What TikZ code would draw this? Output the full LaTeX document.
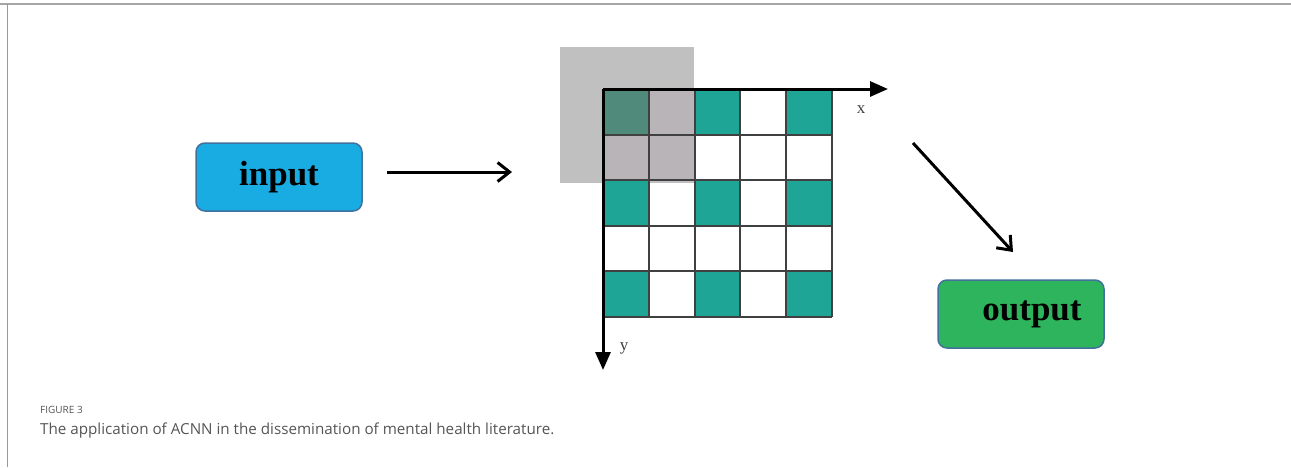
\documentclass[tikz,border=0pt]{standalone}
\usepackage{fontspec}
\setmainfont{Liberation Serif}
\newfontfamily\capfont{Open Sans}
\usetikzlibrary{arrows.meta}

\definecolor{inblue}{HTML}{19ACE3}
\definecolor{outgreen}{HTML}{2DB45C}
\definecolor{boxedge}{HTML}{41719C}
\definecolor{cellteal}{HTML}{1FA596}
\definecolor{celldark}{HTML}{4F8A7A}
\definecolor{cellgray}{HTML}{B8B4B8}
\definecolor{patchgray}{HTML}{C0C0C0}
\definecolor{captext}{HTML}{555555}

\begin{document}
\begin{tikzpicture}[x=1pt, y=-1pt,
    iobox/.style={draw=boxedge, line width=1.5pt, rounded corners=9pt,
        minimum width=166pt, minimum height=68pt, inner sep=0pt,
        font=\fontsize{35}{40}\selectfont\bfseries},
    flow/.style={line width=3pt, -{Straight Barb[length=12pt, width=19pt, line width=3pt]}},
    axis/.style={line width=3pt, -{Triangle[length=18pt, width=15pt]}}]

\useasboundingbox (0,0) rectangle (1291,467);

% Frame
\draw[line width=1.5pt, gray!70] (0,4) -- (1291,4);
\draw[line width=1pt, gray!80] (7,4) -- (7,467);

% Input and output boxes
\node[iobox, fill=inblue] (input) at (279,177) {input};
\node[iobox, fill=outgreen] (output) at (1021,314) {\hspace*{22pt}output};

% Sliding window patch
\fill[patchgray] (560,47) rectangle (694,183);

% Grid cells
\begin{scope}[shift={(603,89)}, x=45.8pt, y=-45.6pt]
    % Row 1
    \fill[celldark] (0,0) rectangle (1,1);
    \fill[cellgray] (1,0) rectangle (2,1);
    \fill[cellteal] (2,0) rectangle (3,1);
    \fill[cellteal] (4,0) rectangle (5,1);
    % Row 2
    \fill[cellgray] (0,1) rectangle (2,2);
    % Row 3
    \fill[cellteal] (0,2) rectangle (1,3);
    \fill[cellteal] (2,2) rectangle (3,3);
    \fill[cellteal] (4,2) rectangle (5,3);
    % Row 5
    \fill[cellteal] (0,4) rectangle (1,5);
    \fill[cellteal] (2,4) rectangle (3,5);
    \fill[cellteal] (4,4) rectangle (5,5);
    % Grid lines
    \foreach \i in {0,...,5} {
        \draw[line width=2pt, black!75] (\i,0) -- (\i,5);
        \draw[line width=2pt, black!75] (0,\i) -- (5,\i);
    }
\end{scope}

% Axes
\coordinate (origin) at (603,89);
\coordinate (xend) at (888,89);
\coordinate (yend) at (603,370);
\draw[axis] (origin) -- (xend);
\draw[axis] (origin) -- (yend);
\node[font=\fontsize{17}{18}\selectfont, black!75] (xlab) at (861,110) {x};
\node[font=\fontsize{17}{18}\selectfont, black!75] (ylab) at (624,348) {y};

% Connectors
\coordinate (gridin) at (560,172);
\coordinate (gridout) at (913,143);
\coordinate (outtop) at (1013,252);
\draw[flow, shorten <=24pt, shorten >=48pt] (input.east |- gridin) -- (gridin);
\draw[flow] (gridout) -- (outtop);

% Caption
\node[anchor=base west, inner sep=0pt, font=\capfont\fontsize{10}{12}\selectfont, text=captext]
    (fignum) at (40,413) {FIGURE 3};
\node[anchor=base west, inner sep=0pt, font=\capfont\fontsize{15.2}{17}\selectfont, text=captext]
    (caption) at (40,434) {The application of ACNN in the dissemination of mental health literature.};

\end{tikzpicture}
\end{document}
